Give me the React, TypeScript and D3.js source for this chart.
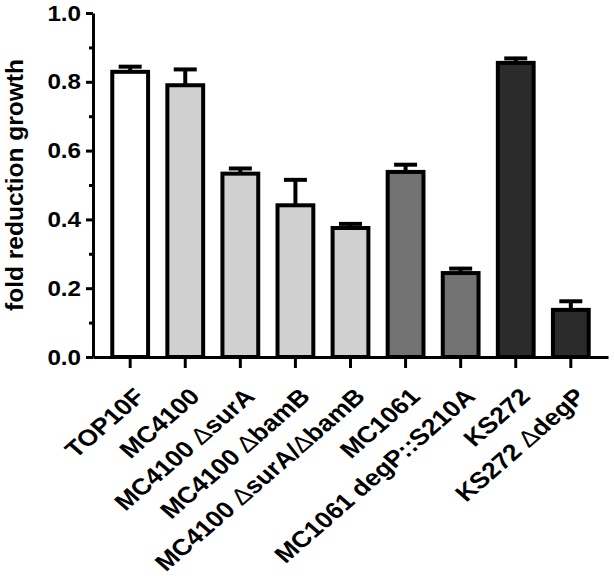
import React, { useRef, useEffect } from 'react';
import * as d3 from 'd3';

// strains on the x axis
const strains = [
  'TOP10F',
  'MC4100',
  'MC4100 ΔsurA',
  'MC4100 ΔbamB',
  'MC4100 ΔsurA/ΔbamB',
  'MC1061',
  'MC1061 degP::S210A',
  'KS272',
  'KS272 ΔdegP',
];
// mean fold reduction and upper error (SEM)
const foldReduction = [0.829, 0.79, 0.533, 0.441, 0.375, 0.538, 0.244, 0.855, 0.137];
const errorUp = [0.015, 0.046, 0.015, 0.074, 0.012, 0.021, 0.013, 0.013, 0.025];
// background strain group of each bar
const strainGroup = ['TOP10F', 'MC4100', 'MC4100', 'MC4100', 'MC4100', 'MC1061', 'MC1061', 'KS272', 'KS272'];
const groupNames = ['TOP10F', 'MC4100', 'MC1061', 'KS272'];
const groupColors = ['#ffffff', '#d0d0d0', '#727272', '#2b2b2b'];
const yTicks = [0, 0.2, 0.4, 0.6, 0.8, 1.0];
const yMinorTicks = [0.1, 0.3, 0.5, 0.7, 0.9];

const FONT = '"Liberation Sans", Arial, Helvetica, sans-serif';
// the source figure is a little wider than tall, so its lettering is stretched sideways
const STRETCH = 1.15;

export default function App() {
  const ref = useRef<SVGSVGElement | null>(null);

  useEffect(() => {
    if (!ref.current) return;
    const svg = d3.select(ref.current);
    svg.selectAll('*').remove();

    const left = 93, right = 608, top = 13, bottom = 357;

    const x = d3.scaleBand<string>().domain(strains).range([left, right]).padding(0.35);
    const y = d3.scaleLinear().domain([0, 1]).range([bottom, top]);
    const color = d3.scaleOrdinal<string, string>().domain(groupNames).range(groupColors);

    const data = strains.map((s, i) => ({ s, v: foldReduction[i], e: errorUp[i], g: strainGroup[i] }));
    const cx = (s: string) => x(s)! + x.bandwidth() / 2;

    // error bars (upper only)
    const err = svg.append('g').attr('stroke', '#000').attr('stroke-width', 4);
    err.selectAll('line.v')
      .data(data)
      .enter()
      .append('line')
      .attr('x1', d => cx(d.s))
      .attr('x2', d => cx(d.s))
      .attr('y1', d => y(d.v))
      .attr('y2', d => y(d.v + d.e));
    err.selectAll('line.cap')
      .data(data)
      .enter()
      .append('line')
      .attr('x1', d => cx(d.s) - 11.5)
      .attr('x2', d => cx(d.s) + 11.5)
      .attr('y1', d => y(d.v + d.e))
      .attr('y2', d => y(d.v + d.e));

    // bars
    svg.append('g')
      .selectAll('rect')
      .data(data)
      .enter()
      .append('rect')
      .attr('x', d => x(d.s)!)
      .attr('y', d => y(d.v))
      .attr('width', x.bandwidth())
      .attr('height', d => y(0) - y(d.v))
      .attr('fill', d => color(d.g))
      .attr('stroke', '#000')
      .attr('stroke-width', 4);

    // y axis
    const yAxis = svg.append('g')
      .attr('transform', `translate(${left},0)`)
      .call(d3.axisLeft(y).tickValues(yTicks).tickFormat(d3.format('.1f')).tickSize(7).tickSizeOuter(0).tickPadding(5));
    yAxis.append('g')
      .call(d3.axisLeft(y).tickValues(yMinorTicks).tickFormat(() => '').tickSize(4).tickSizeOuter(0))
      .select('.domain').remove();
    yAxis.selectAll('path, line').attr('stroke', '#000').attr('stroke-width', 3);
    yAxis.selectAll('.tick text')
      .attr('x', -12 / 1.1)
      .attr('transform', 'scale(1.1,1)')
      .attr('font-family', FONT)
      .attr('font-weight', 'bold')
      .attr('font-size', 22)
      .attr('fill', '#000');

    // x axis
    const xAxis = svg.append('g')
      .attr('transform', `translate(0,${bottom})`)
      .call(d3.axisBottom(x).tickSize(11).tickSizeOuter(0).tickFormat(() => ''));
    xAxis.selectAll('path, line').attr('stroke', '#000').attr('stroke-width', 3);

    // rotated strain labels, Δ drawn in a thin weight
    const labels = svg.append('g')
      .attr('font-family', FONT)
      .attr('font-weight', 'bold')
      .attr('font-size', 23)
      .attr('fill', '#000');
    strains.forEach(s => {
      const t = labels.append('text')
        .attr('text-anchor', 'end')
        .attr('transform', `translate(${cx(s) + 16},${bottom + 41}) scale(${STRETCH},1) rotate(-45)`);
      s.split(/(Δ)/).filter(p => p !== '').forEach(p => {
        const ts = t.append('tspan').text(p);
        if (p === 'Δ') ts.attr('font-weight', 'normal');
      });
    });

    // y axis title
    svg.append('text')
      .attr('transform', `translate(23,${(top + bottom) / 2}) rotate(-90)`)
      .attr('text-anchor', 'middle')
      .attr('font-family', FONT)
      .attr('font-weight', 'bold')
      .attr('font-size', 24.5)
      .attr('fill', '#000')
      .text('fold reduction growth');
  }, []);

  return (
    <svg
      ref={ref}
      width={614}
      height={576}
      style={{ position: 'absolute', left: 0, top: 0, background: '#fff' }}
    />
  );
}
